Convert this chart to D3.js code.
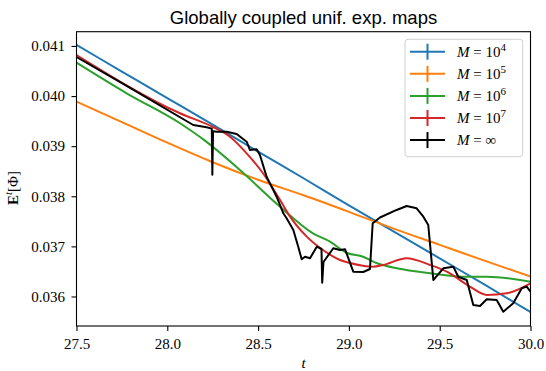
<!DOCTYPE html>
<html>
<head>
<meta charset="utf-8">
<script src="https://cdn.jsdelivr.net/npm/d3@7"></script>
<style>
  body { margin: 0; background: #fff; }
  svg { display: block; }
</style>
</head>
<body>
<script>
// ---- data ----
const xTicks = [27.5, 28.0, 28.5, 29.0, 29.5, 30.0];
const yTicks = [0.036, 0.037, 0.038, 0.039, 0.040, 0.041];

const tGrid = [27.5, 27.75, 28.0, 28.25, 28.5, 28.75, 29.0, 29.25, 29.5, 29.75, 30.0];
const blueVals = [0.04102, 0.04049, 0.03996, 0.03943, 0.03889, 0.03836, 0.03782, 0.03729, 0.03676, 0.03623, 0.03569];
const orangeVals = [0.039888, 0.03948, 0.03907, 0.03868, 0.03833, 0.03802, 0.03769, 0.03735, 0.03703, 0.03671, 0.03640];

const tGreen = [27.5, 27.776, 28.07, 28.2, 28.4, 28.621, 28.802, 28.896, 28.99, 29.078, 29.155, 29.265, 29.447, 29.628, 29.761, 30.0];
const greenVals = [0.040667, 0.040056, 0.039457, 0.039130, 0.038525, 0.037792, 0.037261, 0.037094, 0.036868, 0.036794, 0.036663, 0.036563, 0.036463, 0.036395, 0.036395, 0.036295];

const tRed = [27.5, 28.07, 28.252, 28.345, 28.437, 28.527, 28.621, 28.676, 28.768, 28.857, 28.951, 29.006, 29.133, 29.188, 29.318, 29.447, 29.539, 29.667, 29.759, 29.869, 30.0];
const redVals = [0.04082, 0.039657, 0.039383, 0.03919, 0.038858, 0.038459, 0.037926, 0.037593, 0.037194, 0.036928, 0.036729, 0.036669, 0.036595, 0.036629, 0.036763, 0.036629, 0.036495, 0.036196, 0.03603, 0.036064, 0.036264];

const tBlack = [27.5, 27.776, 28.143, 28.217, 28.245, 28.248, 28.252, 28.272, 28.327, 28.382, 28.437, 28.455, 28.492, 28.51,
  28.547, 28.602, 28.639, 28.657, 28.694, 28.721, 28.74, 28.758, 28.786, 28.823, 28.849, 28.853, 28.86, 28.914, 28.951,
  28.979, 29.024, 29.079, 29.116, 29.131, 29.171, 29.263, 29.318, 29.373, 29.41, 29.437, 29.465, 29.52, 29.575, 29.602,
  29.649, 29.685, 29.722, 29.759, 29.814, 29.85, 29.905, 29.952, 29.979, 30.0];
const blackVals = [0.04078, 0.040202, 0.039423, 0.039377, 0.03935, 0.03843, 0.0393, 0.039289, 0.039289, 0.039244, 0.03909, 0.038924, 0.038938, 0.038824,
  0.038391, 0.037992, 0.037661, 0.037561, 0.037327, 0.036994, 0.036743, 0.036794, 0.036763, 0.036994, 0.036948, 0.036275, 0.036689, 0.036962, 0.036928,
  0.036942, 0.036495, 0.036489, 0.036549, 0.037461, 0.037577, 0.037727, 0.037806, 0.03776, 0.037593, 0.037427, 0.036329, 0.036563, 0.036595, 0.036395,
  0.036329, 0.03583, 0.03581, 0.035944, 0.03593, 0.035697, 0.035864, 0.036164, 0.036196, 0.036096];

const seriesNames = ["4", "5", "6", "7", "inf"];
const seriesColors = ["#1f77b4", "#ff7f0e", "#2ca02c", "#d62728", "#000000"];

function zip(ts, vs) {
    return ts.map(function (t, i) { return {t: t, v: vs[i]}; });
}

const series = [
    zip(tGrid, blueVals),
    zip(tGrid, orangeVals),
    zip(tGreen, greenVals),
    zip(tRed, redVals),
    zip(tBlack, blackVals)
];

// ---- chart ----
const margin = {top: 31.7, right: 15.5, bottom: 45, left: 76.5};
const width = 546 - margin.left - margin.right;
const height = 371 - margin.top - margin.bottom;
const serif = "'Liberation Serif', 'DejaVu Serif', serif";

const root = d3.select("body")
    .append("svg")
    .attr("width", 546)
    .attr("height", 371);

const svg = root.append("g")
    .attr("transform", "translate(" + margin.left + "," + margin.top + ")");

const xScale = d3.scaleLinear().domain([27.5, 30.0]).range([0, width]);
const yScale = d3.scaleLinear().domain([0.035411, 0.041285]).range([height, 0]);

svg.append("defs").append("clipPath").attr("id", "plot")
    .append("rect").attr("width", width).attr("height", height);

// smooth for the finite-M runs, straight segments for the M = inf curve (keeps its spikes)
const smoothLine = d3.line()
    .curve(d3.curveMonotoneX)
    .x(function (d) { return xScale(d.t); })
    .y(function (d) { return yScale(d.v); });
const sharpLine = d3.line()
    .x(function (d) { return xScale(d.t); })
    .y(function (d) { return yScale(d.v); });

svg.append("g")
    .attr("clip-path", "url(#plot)")
    .selectAll("path")
    .data(series)
    .enter().append("path")
    .attr("fill", "none")
    .attr("stroke", function (d, i) { return seriesColors[i]; })
    .attr("stroke-width", 2)
    .attr("stroke-linejoin", "round")
    .attr("d", function (d, i) { return i === 4 ? sharpLine(d) : smoothLine(d); });

// X axis
const xAxis = svg.append("g")
    .attr("transform", "translate(0," + height + ")")
    .call(d3.axisBottom(xScale).tickValues(xTicks).tickFormat(d3.format(".1f"))
        .tickSize(5).tickSizeOuter(0).tickPadding(7));

// Y axis
const yAxis = svg.append("g")
    .call(d3.axisLeft(yScale).tickValues(yTicks).tickFormat(d3.format(".3f"))
        .tickSize(5).tickSizeOuter(0).tickPadding(6.5));

[xAxis, yAxis].forEach(function (ax) {
    ax.select(".domain").remove();
    ax.selectAll("line").attr("stroke", "#000").attr("stroke-width", 1.1);
    ax.selectAll("text").attr("font-family", serif).attr("font-size", 15).attr("fill", "#000");
});

// frame
svg.append("rect")
    .attr("width", width)
    .attr("height", height)
    .attr("fill", "none")
    .attr("stroke", "#000")
    .attr("stroke-width", 1.1);

// title
root.append("text")
    .attr("x", margin.left + width / 2)
    .attr("y", 24)
    .attr("text-anchor", "middle")
    .attr("font-family", "'Liberation Sans', Arial, sans-serif")
    .attr("font-size", 18.5)
    .attr("fill", "#000")
    .text("Globally coupled unif. exp. maps");

// x label
root.append("text")
    .attr("x", margin.left + width / 2)
    .attr("y", 368)
    .attr("text-anchor", "middle")
    .attr("font-family", serif)
    .attr("font-style", "italic")
    .attr("font-size", 15)
    .text("t");

// y label
const yLab = root.append("text")
    .attr("transform", "translate(18,188) rotate(-90)")
    .attr("text-anchor", "middle")
    .attr("font-family", serif)
    .attr("font-size", 15);
yLab.append("tspan").attr("font-weight", "bold").text("E");
yLab.append("tspan").attr("font-style", "italic").attr("font-size", 11).attr("dy", -6).text("t");
yLab.append("tspan").attr("dy", 6).text("[Φ]");

// legend
const legend = root.append("g").attr("transform", "translate(405,39.3)");
legend.append("rect")
    .attr("width", 117.7)
    .attr("height", 117.4)
    .attr("rx", 3)
    .attr("fill", "#fff")
    .attr("fill-opacity", 0.8)
    .attr("stroke", "#d0d0d0")
    .attr("stroke-width", 1);

const rows = legend.selectAll(".row")
    .data(seriesNames)
    .enter().append("g")
    .attr("class", "row")
    .attr("transform", function (d, i) { return "translate(0," + (12.4 + i * 22.1) + ")"; });

rows.append("line")
    .attr("x1", 5).attr("x2", 40).attr("y1", 0).attr("y2", 0)
    .attr("stroke", function (d, i) { return seriesColors[i]; })
    .attr("stroke-width", 2);
rows.append("line")
    .attr("x1", 22.5).attr("x2", 22.5).attr("y1", -8).attr("y2", 8)
    .attr("stroke", function (d, i) { return seriesColors[i]; })
    .attr("stroke-width", 2);

const labels = rows.append("text")
    .attr("x", 52)
    .attr("y", 5)
    .attr("font-family", serif)
    .attr("font-size", 15)
    .attr("fill", "#000");
labels.append("tspan").attr("font-style", "italic").text("M");
labels.append("tspan").text(function (d) { return d === "inf" ? " = ∞" : " = 10"; });
labels.filter(function (d) { return d !== "inf"; })
    .append("tspan")
    .attr("font-size", 11)
    .attr("dy", -6)
    .text(function (d) { return d; });
</script>
</body>
</html>
